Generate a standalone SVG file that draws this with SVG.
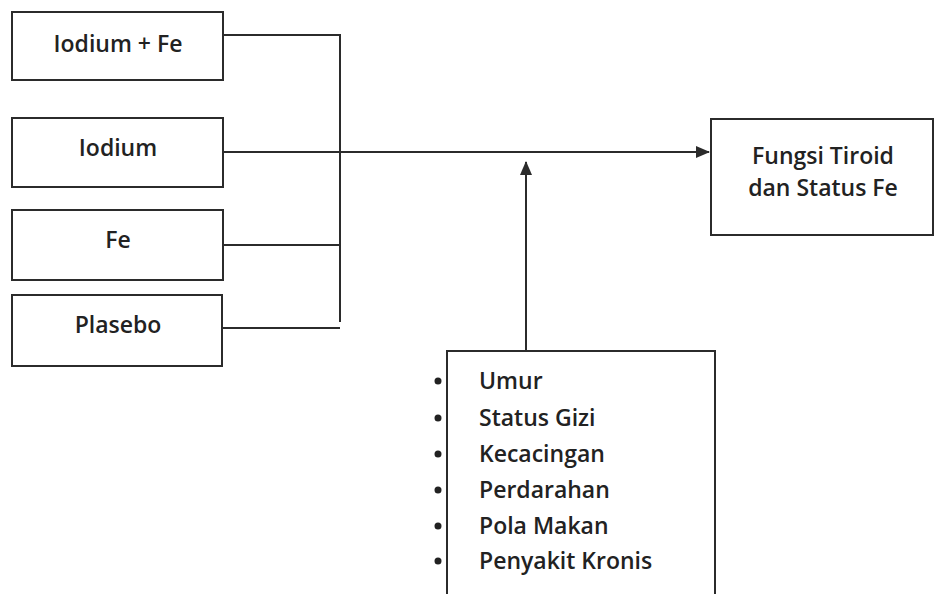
<svg xmlns="http://www.w3.org/2000/svg" width="934" height="594" viewBox="0 0 934 594">
<defs>
<style>
.box{fill:#fff;stroke:#2b2b2b;stroke-width:2}
.ln{fill:none;stroke:#2b2b2b;stroke-width:2}
text{font-family:"Open Sans","Liberation Sans",sans-serif;fill:#222;font-weight:600}
.t{font-size:23px;text-anchor:middle}
.li{font-size:23px}
</style>
<marker id="ah" markerWidth="14" markerHeight="12" refX="13" refY="6" orient="auto" markerUnits="userSpaceOnUse">
<path d="M0,0 L14,6 L0,12 Z" fill="#2b2b2b"/>
</marker>
</defs>
<rect width="934" height="594" fill="#fff"/>
<g id="connectors">
<polyline class="ln" points="223,35 340,35 340,322"/>
<line class="ln" x1="223" y1="152" x2="709" y2="152" marker-end="url(#ah)"/>
<line class="ln" x1="223" y1="245" x2="340" y2="245"/>
<line class="ln" x1="223" y1="328" x2="340" y2="328"/>
<line class="ln" x1="526" y1="351" x2="526" y2="162" marker-end="url(#ah)"/>
</g>
<g id="iodium-fe"><rect class="box" x="12" y="12" width="211" height="68"/><text class="t" x="118" y="52">Iodium + Fe</text></g>
<g id="iodium"><rect class="box" x="12" y="118" width="211" height="69"/><text class="t" x="118" y="156">Iodium</text></g>
<g id="fe"><rect class="box" x="12" y="210" width="211" height="70"/><text class="t" x="118" y="248">Fe</text></g>
<g id="plasebo"><rect class="box" x="12" y="295" width="210" height="71"/><text class="t" x="118" y="333">Plasebo</text></g>
<g id="fungsi"><rect class="box" x="711" y="119" width="222" height="116"/><text class="t" x="823" y="164">Fungsi Tiroid</text><text class="t" x="823" y="196">dan Status Fe</text></g>
<g id="faktor"><rect class="box" x="447" y="351" width="268" height="260"/>
<g fill="#222"><circle cx="438" cy="381" r="3.5"/><circle cx="438" cy="418" r="3.5"/><circle cx="438" cy="454" r="3.5"/><circle cx="438" cy="490" r="3.5"/><circle cx="438" cy="526" r="3.5"/><circle cx="438" cy="561" r="3.5"/></g>
<text class="li" x="479" y="389">Umur</text>
<text class="li" x="479" y="426">Status Gizi</text>
<text class="li" x="479" y="462">Kecacingan</text>
<text class="li" x="479" y="498">Perdarahan</text>
<text class="li" x="479" y="534">Pola Makan</text>
<text class="li" x="479" y="569">Penyakit Kronis</text>
</g>
</svg>
